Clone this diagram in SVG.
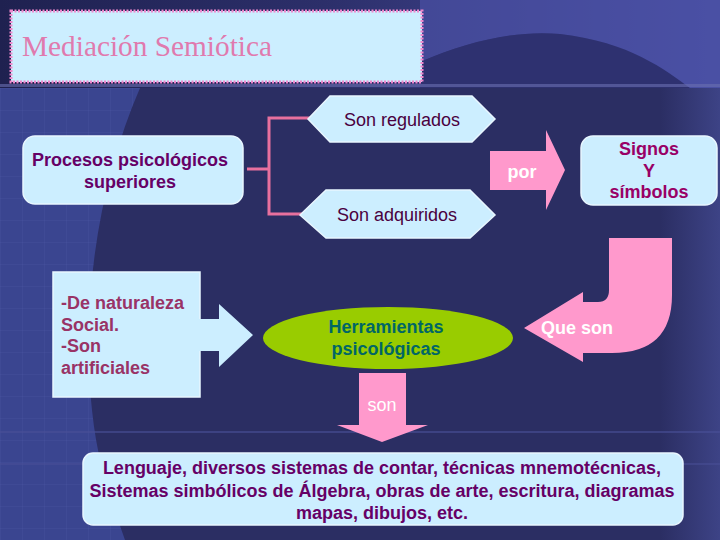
<svg xmlns="http://www.w3.org/2000/svg" width="720" height="540" viewBox="0 0 720 540">
<defs>
<style>
.box{fill:#CCEEFF;stroke:#E8F6FF;stroke-width:1.5}
.t{font-family:"Liberation Sans",Arial,sans-serif;font-size:18px;text-anchor:middle}
.b{font-weight:bold}
.pink{fill:#FF99CC}
.con{fill:none;stroke:#E8709E;stroke-width:3}
</style>
<linearGradient id="topG" x1="0" y1="0" x2="1" y2="0">
<stop offset="0" stop-color="#1f2150"/>
<stop offset="0.45" stop-color="#2c2f6a"/>
<stop offset="1" stop-color="#4b51a6"/>
</linearGradient>
<linearGradient id="rightG" x1="0" y1="0" x2="1" y2="0">
<stop offset="0" stop-color="#2b2e63"/>
<stop offset="1" stop-color="#3d4386"/>
</linearGradient>
<pattern id="grid" width="22" height="22" patternUnits="userSpaceOnUse">
<path d="M22 0 L0 0 0 22" fill="none" stroke="#5864ae" stroke-width="0.7" opacity="0.45"/>
</pattern>
</defs>
<g id="background">
<rect width="720" height="540" fill="#2b2e63"/>
<rect x="660" y="88" width="60" height="452" fill="url(#rightG)"/>
<path d="M0 88 L140 88 C100 180 80 300 92 410 C98 470 115 510 125 540 L0 540 Z" fill="#3a4590"/>
<path d="M0 88 L140 88 C100 180 80 300 92 410 C98 470 115 510 125 540 L0 540 Z" fill="url(#grid)"/>
<rect x="0" y="0" width="720" height="88" fill="url(#topG)"/>
<path d="M420 62 C470 40 520 30 560 34 C630 42 665 70 690 88 L720 88 L720 0 L420 0 Z" fill="#4a50a4" opacity="0.7"/>
<path d="M420 62 C470 40 520 30 560 34 C630 42 665 70 690 88 L420 88 Z" fill="#2e3170"/>
<rect x="0" y="84" width="720" height="3" fill="#6a70b0" opacity="0.6"/>
<rect x="0" y="431" width="720" height="2" fill="#4a5098" opacity="0.6"/>
<rect x="0" y="463" width="720" height="2" fill="#4a5098" opacity="0.5"/>
</g>
<g id="title">
<rect x="11" y="11" width="411" height="71" fill="#CCEEFF" stroke="#EE88CC" stroke-width="3" stroke-dasharray="2 1.5"/>
<text x="22" y="56" font-family="'Liberation Serif',serif" font-size="30" fill="#E07AAE" textLength="250" lengthAdjust="spacingAndGlyphs">Mediación Semiótica</text>
</g>
<g id="connectors">
<path class="con" d="M247 169 H269 M269 118 V214 M267.5 118 H312 M267.5 214 H304"/>
</g>
<g id="procesos">
<rect class="box" x="23" y="136" width="220" height="68" rx="12"/>
<text class="t b" fill="#660066"><tspan x="130" y="166">Procesos psicológicos</tspan><tspan x="130" y="188">superiores</tspan></text>
</g>
<g id="regulados">
<polygon class="box" points="308,119 330,96 472,96 495,119 472,142 330,142"/>
<text class="t" x="402" y="126" fill="#4a0040">Son regulados</text>
</g>
<g id="adquiridos">
<polygon class="box" points="300,215 326,190 470,190 495,215 470,238 326,238"/>
<text class="t" x="397" y="221" fill="#4a0040">Son adquiridos</text>
</g>
<g id="por">
<polygon class="pink" points="490,151 546,151 546,130 565,170 546,210 546,190 490,190"/>
<text class="t b" x="522" y="178" fill="#ffffff">por</text>
</g>
<g id="signos">
<rect class="box" x="581" y="136" width="136" height="69" rx="12"/>
<text class="t b" fill="#990066"><tspan x="649" y="155">Signos</tspan><tspan x="649" y="177">Y</tspan><tspan x="649" y="198">símbolos</tspan></text>
</g>
<g id="naturaleza">
<rect class="box" x="53" y="272" width="147" height="125"/>
<polygon fill="#CCEEFF" points="199,319 219,319 219,304 253,335 219,367 219,351 199,351"/>
<text class="t b" fill="#993366" style="text-anchor:start"><tspan x="61" y="309">-De naturaleza</tspan><tspan x="61" y="331">Social.</tspan><tspan x="61" y="352">-Son</tspan><tspan x="61" y="374">artificiales</tspan></text>
</g>
<g id="herramientas">
<ellipse cx="388" cy="338" rx="125" ry="31" fill="#99CC00"/>
<text class="t b" fill="#006666"><tspan x="386" y="333">Herramientas</tspan><tspan x="386" y="355">psicológicas</tspan></text>
</g>
<g id="queson">
<path class="pink" d="M609 238 H672 V295 Q672 353 612 353 H583 V362 L524 328 L583 292 V302 H598 Q609 302 609 290 Z"/>
<text class="t b" x="577" y="334" fill="#ffffff">Que son</text>
</g>
<g id="son">
<polygon class="pink" points="359,373 406,373 406,425 428,425 382,442 337,425 359,425"/>
<text class="t" x="382" y="411" fill="#ffffff">son</text>
</g>
<g id="lenguaje">
<rect class="box" x="83" y="453" width="600" height="72" rx="10"/>
<text class="t b" fill="#660066"><tspan x="382" y="474">Lenguaje, diversos sistemas de contar, técnicas mnemotécnicas,</tspan><tspan x="382" y="497">Sistemas simbólicos de Álgebra, obras de arte, escritura, diagramas</tspan><tspan x="382" y="519">mapas, dibujos, etc.</tspan></text>
</g>
</svg>
